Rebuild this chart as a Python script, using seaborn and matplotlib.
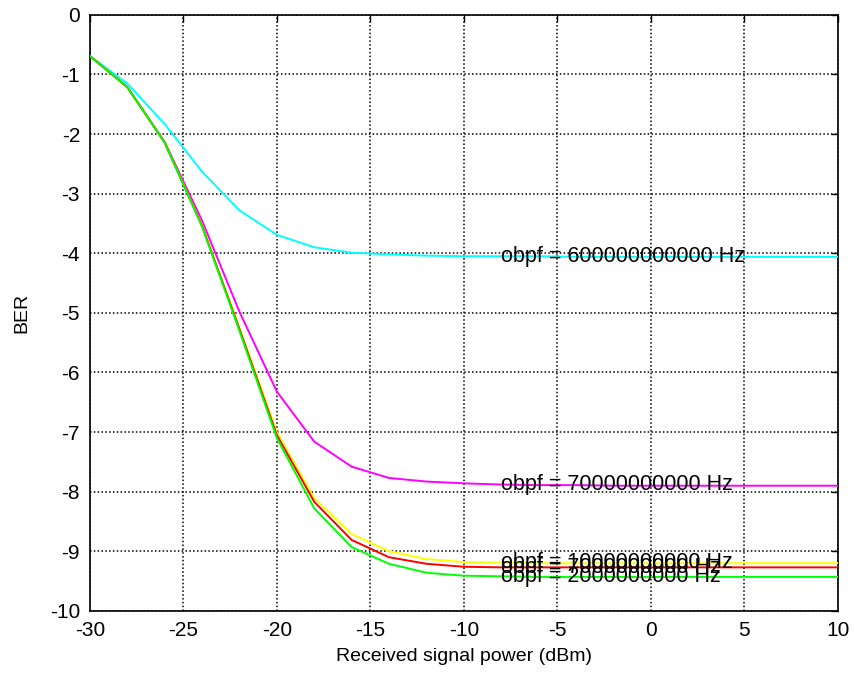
import numpy as np
import pandas as pd
import matplotlib
matplotlib.use("Agg")
import matplotlib.pyplot as plt
import seaborn as sns

# ---- data ----
power_dbm = [-30, -28, -26, -24, -22, -20, -18, -16, -14, -12, -10,
             -8, -6, -4, -2, 0, 2, 4, 6, 8, 10]

ber_600ghz = [-0.69, -1.15, -1.83, -2.63, -3.28, -3.69, -3.90, -3.99, -4.02, -4.04, -4.05,
              -4.05, -4.05, -4.06, -4.06, -4.06, -4.06, -4.06, -4.06, -4.06, -4.06]
ber_70ghz = [-0.69, -1.21, -2.13, -3.45, -4.98, -6.32, -7.16, -7.58, -7.77, -7.83, -7.86,
             -7.88, -7.89, -7.89, -7.90, -7.90, -7.90, -7.90, -7.90, -7.90, -7.90]
ber_10ghz = [-0.69, -1.21, -2.14, -3.53, -5.25, -7.00, -8.11, -8.71, -9.00, -9.13, -9.18,
             -9.19, -9.20, -9.20, -9.20, -9.20, -9.20, -9.20, -9.20, -9.20, -9.20]
ber_7ghz = [-0.69, -1.21, -2.14, -3.54, -5.27, -7.05, -8.17, -8.81, -9.10, -9.21, -9.26,
            -9.27, -9.27, -9.27, -9.27, -9.27, -9.27, -9.27, -9.27, -9.27, -9.27]
ber_2ghz = [-0.69, -1.21, -2.14, -3.55, -5.30, -7.10, -8.28, -8.93, -9.21, -9.36, -9.41,
            -9.42, -9.43, -9.43, -9.43, -9.43, -9.43, -9.43, -9.43, -9.43, -9.43]

series_labels = ["obpf = 600000000000 Hz", "obpf = 70000000000 Hz",
                 "obpf = 10000000000 Hz", "obpf = 7000000000 Hz",
                 "obpf = 2000000000 Hz"]
series_values = [ber_600ghz, ber_70ghz, ber_10ghz, ber_7ghz, ber_2ghz]
series_colors = ["#00FFFF", "#FF00FF", "#FFFF00", "#FF0000", "#00FF00"]
label_x = -8

x_ticks = [-30, -25, -20, -15, -10, -5, 0, 5, 10]
y_ticks = [0, -1, -2, -3, -4, -5, -6, -7, -8, -9, -10]
x_label = "Received signal power (dBm)"
y_label = "BER"

# ---- build table ----
rows = []
for lab, vals in zip(series_labels, series_values):
    for xv, yv in zip(power_dbm, vals):
        rows.append({"power": xv, "ber": yv, "series": lab})
df = pd.DataFrame(rows)

sns.set_style("white")
plt.rcParams["font.family"] = ["Liberation Sans", "DejaVu Sans"]
plt.rcParams["text.color"] = "black"
plt.rcParams["axes.labelcolor"] = "black"

fig = plt.figure(figsize=(8.55, 6.75), dpi=100)
ax = fig.add_axes([0.105, 0.095, 0.875, 0.883])

sns.lineplot(data=df, x="power", y="ber", hue="series",
             hue_order=series_labels, palette=series_colors,
             sort=False, legend=False, linewidth=1.4, ax=ax, zorder=3)

for lab, vals in zip(series_labels, series_values):
    yv = vals[power_dbm.index(label_x)]
    ax.text(label_x, yv, lab, fontsize=15.5, color="black",
            ha="left", va="center", zorder=4)

ax.set_xlim(-30, 10)
ax.set_ylim(-10, 0)
ax.set_xticks(x_ticks)
ax.set_yticks(y_ticks)
ax.set_xticklabels([str(t) for t in x_ticks], fontsize=15)
ax.set_yticklabels([str(t) for t in y_ticks], fontsize=15)
ax.set_xlabel(x_label, fontsize=14, labelpad=6)
ax.set_ylabel(y_label, fontsize=14, labelpad=14)

ax.grid(True, color="black", linestyle=(0, (1, 1.5)), linewidth=1.1)
ax.set_axisbelow(True)
ax.tick_params(direction="in", top=True, right=True, length=5,
               width=1, colors="black", pad=7)
for sp in ax.spines.values():
    sp.set_visible(True)
    sp.set_color("black")
    sp.set_linewidth(1.2)

fig.savefig("out.png", dpi=100, facecolor="white")
